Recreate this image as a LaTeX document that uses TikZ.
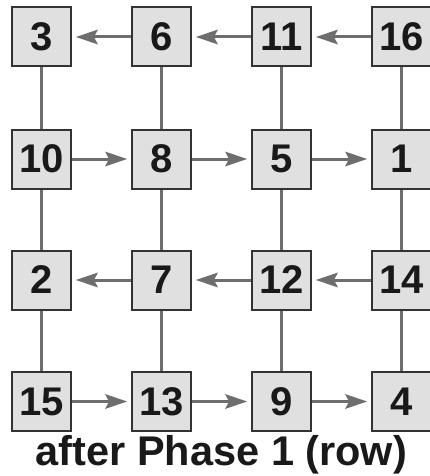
\documentclass[tikz,border=0pt]{standalone}
\usepackage{fontspec}
\setmainfont{Liberation Sans}
\usetikzlibrary{arrows.meta}
\definecolor{boxfill}{HTML}{E0E0E0}
\definecolor{boxline}{HTML}{333333}
\definecolor{conn}{HTML}{6E6E6E}
\begin{document}
\begin{tikzpicture}[x=1pt,y=-1pt,
  cell/.style={draw=boxline, fill=boxfill, line width=2pt, minimum width=59pt, minimum height=59pt, inner sep=0pt,
    font=\fontsize{40}{40}\selectfont\bfseries, text=black!90},
  flow/.style={draw=conn, line width=3pt, -{Stealth[length=22pt,width=15pt,inset=4pt,line width=0pt]}, shorten >=4pt},
  link/.style={draw=conn, line width=3pt}]
\useasboundingbox (0,0) rectangle (429,476);
\fill[white] (0,0) rectangle (429,476);
% row 1
\node[cell] (a3)  at (41.5,37) {3};
\node[cell] (a6)  at (161.5,37) {6};
\node[cell] (a11) at (281.5,37) {11};
\node[cell] (a16) at (401.5,37) {16};
% row 2
\node[cell] (a10) at (41.5,159) {10};
\node[cell] (a8)  at (161.5,159) {8};
\node[cell] (a5)  at (281.5,159) {5};
\node[cell] (a1)  at (401.5,159) {1};
% row 3
\node[cell] (a2)  at (41.5,280) {2};
\node[cell] (a7)  at (161.5,280) {7};
\node[cell] (a12) at (281.5,280) {12};
\node[cell] (a14) at (401.5,280) {14};
% row 4
\node[cell] (a15) at (41.5,401.5) {15};
\node[cell] (a13) at (161.5,401.5) {13};
\node[cell] (a9)  at (281.5,401.5) {9};
\node[cell] (a4)  at (401.5,401.5) {4};
% vertical links
\foreach \u/\v in {a3/a10,a10/a2,a2/a15,a6/a8,a8/a7,a7/a13,a11/a5,a5/a12,a12/a9,a16/a1,a1/a14,a14/a4}
  \draw[link] (\u) -- (\v);
% horizontal arrows
\draw[flow] (a16) -- (a11);
\draw[flow] (a11) -- (a6);
\draw[flow] (a6) -- (a3);
\draw[flow] (a10) -- (a8);
\draw[flow] (a8) -- (a5);
\draw[flow] (a5) -- (a1);
\draw[flow] (a14) -- (a12);
\draw[flow] (a12) -- (a7);
\draw[flow] (a7) -- (a2);
\draw[flow] (a15) -- (a13);
\draw[flow] (a13) -- (a9);
\draw[flow] (a9) -- (a4);
% caption
\node[anchor=base, font=\fontsize{41.5}{41.5}\selectfont\bfseries, text=black!90, inner sep=0pt] (cap) at (221.5,465) {after Phase 1 (row)};
\end{tikzpicture}
\end{document}
